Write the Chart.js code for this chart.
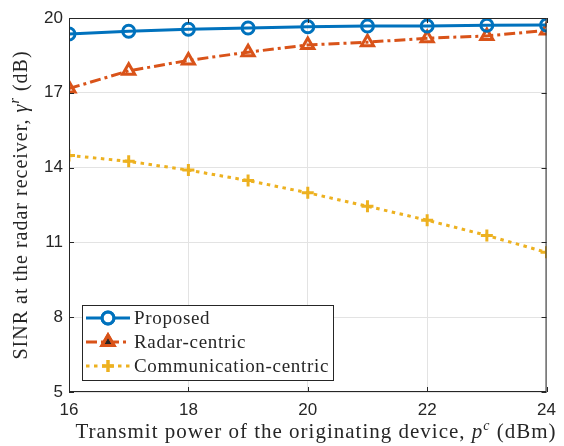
<!DOCTYPE html>
<html>
<head>
<meta charset="utf-8">
<script src="https://cdn.jsdelivr.net/npm/chart.js@4.4.1/dist/chart.umd.min.js"></script>
<style>
  html, body { margin: 0; padding: 0; background: #fff; }
  #wrap { width: 564px; height: 446px; }
</style>
</head>
<body>
<div id="wrap"><canvas id="sinrChart" width="564" height="446"></canvas></div>
<script>
// transmit power (dBm)
const powers = [16, 17, 18, 19, 20, 21, 22, 23, 24];
// SINR at radar receiver (dB)
const proposed = [19.36, 19.47, 19.55, 19.60, 19.65, 19.68, 19.68, 19.71, 19.72];
const radarCentric = [17.17, 17.88, 18.30, 18.63, 18.92, 19.03, 19.19, 19.28, 19.50];
const commCentric = [14.49, 14.25, 13.90, 13.48, 12.99, 12.45, 11.89, 11.28, 10.60];
const xTicks = [16, 18, 20, 22, 24];
const yTicks = [5, 8, 11, 14, 17, 20];

const BLUE = "#0072BD", ORANGE = "#D95319", YELLOW = "#EDB120", AXIS = "#262626";
const SERIF = "'Liberation Serif', 'DejaVu Serif', serif";
const SANS = "'Liberation Sans', Arial, sans-serif";

const series = [
  { label: "Proposed", data: proposed, color: BLUE, dash: [], style: "circle", r: 6 },
  { label: "Radar-centric", data: radarCentric, color: ORANGE, dash: [11, 4, 3, 4], style: "triangle", r: 7 },
  { label: "Communication-centric", data: commCentric, color: YELLOW, dash: [3.5, 4.5], style: "cross", r: 6 }
];

// draws a run of text pieces (plain / italic / superscript) centred at x
function drawRich(ctx, parts, x, y, spacing) {
  ctx.letterSpacing = spacing + "px";
  let total = 0;
  parts.forEach(p => { ctx.font = p.font; p.w = ctx.measureText(p.text).width; total += p.w; });
  let cx = x - total / 2;
  parts.forEach(p => {
    ctx.font = p.font;
    ctx.fillText(p.text, cx, y + (p.dy || 0));
    cx += p.w;
  });
  ctx.letterSpacing = "0px";
}

const frame = {
  id: "frame",
  afterDraw(chart) {
    const { ctx, chartArea: a, scales } = chart;
    ctx.save();
    // box and inward ticks
    ctx.strokeStyle = AXIS;
    ctx.lineWidth = 1;
    ctx.strokeRect(a.left + 0.5, a.top + 0.5, a.right - a.left - 1, a.bottom - a.top - 1);
    ctx.beginPath();
    xTicks.forEach(v => {
      const px = Math.round(scales.x.getPixelForValue(v)) + 0.5;
      ctx.moveTo(px, a.bottom); ctx.lineTo(px, a.bottom - 5);
      ctx.moveTo(px, a.top); ctx.lineTo(px, a.top + 5);
    });
    yTicks.forEach(v => {
      const py = Math.round(scales.y.getPixelForValue(v)) + 0.5;
      ctx.moveTo(a.left, py); ctx.lineTo(a.left + 5, py);
      ctx.moveTo(a.right, py); ctx.lineTo(a.right - 5, py);
    });
    ctx.stroke();

    // legend
    const lx = 82, ly = 305, lw = 251, lh = 75;
    ctx.fillStyle = "#fff";
    ctx.fillRect(lx, ly, lw, lh);
    ctx.strokeRect(lx + 0.5, ly + 0.5, lw, lh);
    series.forEach((s, i) => {
      const y = ly + 13 + i * 24;
      ctx.strokeStyle = s.color;
      ctx.lineWidth = 3;
      ctx.setLineDash(s.dash);
      ctx.beginPath(); ctx.moveTo(86, y); ctx.lineTo(130, y); ctx.stroke();
      ctx.setLineDash([]);
      Chart.helpers.drawPoint(ctx, { pointStyle: s.style, radius: s.r, borderWidth: 3 }, 108, y);
      ctx.stroke();
      ctx.fillStyle = AXIS;
      ctx.font = "19px " + SERIF;
      ctx.letterSpacing = "0.7px";
      ctx.textBaseline = "middle";
      ctx.fillText(s.label, 134, y + 1);
      ctx.letterSpacing = "0px";
    });

    // axis titles
    ctx.fillStyle = AXIS;
    ctx.textBaseline = "alphabetic";
    drawRich(ctx, [
      { text: "Transmit power of the originating device, ", font: "21px " + SERIF },
      { text: "p", font: "italic 21px " + SERIF },
      { text: "c", font: "italic 14px " + SERIF, dy: -8 },
      { text: " (dBm)", font: "21px " + SERIF }
    ], 316, 438, 1);
    ctx.translate(27, 205);
    ctx.rotate(-Math.PI / 2);
    drawRich(ctx, [
      { text: "SINR at the radar receiver, ", font: "20px " + SERIF },
      { text: "\u03B3", font: "italic 20px " + SERIF },
      { text: "r", font: "italic 14px " + SERIF, dy: -8 },
      { text: " (dB)", font: "20px " + SERIF }
    ], 0, 0, 1);
    ctx.restore();
  }
};

new Chart(document.getElementById("sinrChart"), {
  type: "line",
  data: {
    datasets: series.map(s => ({
      label: s.label,
      data: powers.map((p, i) => ({ x: p, y: s.data[i] })),
      borderColor: s.color,
      backgroundColor: "transparent",
      borderWidth: 3,
      borderDash: s.dash,
      pointStyle: s.style,
      pointRadius: s.r,
      pointBorderWidth: 3,
      pointBorderColor: s.color,
      pointBackgroundColor: "transparent",
      tension: 0
    }))
  },
  options: {
    responsive: false,
    animation: false,
    layout: { padding: { top: 18, right: 11, left: 0, bottom: 0 } },
    plugins: { legend: { display: false }, tooltip: { enabled: false } },
    scales: {
      x: {
        type: "linear", min: 16, max: 24,
        afterBuildTicks: sc => { sc.ticks = xTicks.map(v => ({ value: v })); },
        afterFit: sc => { sc.height = 54; },
        grid: { color: "#e3e3e3", drawTicks: false },
        border: { display: false },
        ticks: { color: AXIS, font: { family: SANS, size: 17 }, padding: 8, maxRotation: 0 }
      },
      y: {
        min: 5, max: 20,
        afterBuildTicks: sc => { sc.ticks = yTicks.map(v => ({ value: v })); },
        afterFit: sc => { sc.width = 69; },
        grid: { color: "#e3e3e3", drawTicks: false },
        border: { display: false },
        ticks: { color: AXIS, font: { family: SANS, size: 17 }, padding: 6 }
      }
    }
  },
  plugins: [frame]
});
</script>
</body>
</html>
